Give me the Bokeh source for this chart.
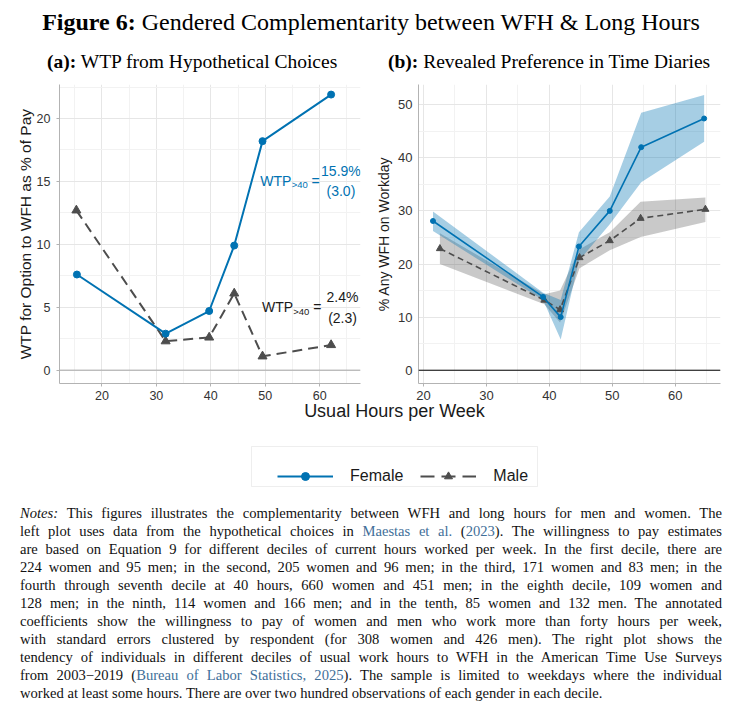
from bokeh.plotting import figure
from bokeh.models import (Range1d, FixedTicker, Span, Label, Legend, LegendItem,
                          BoxAnnotation, Div)
from bokeh.layouts import column, row
from bokeh.embed import file_html
from bokeh.resources import INLINE

# ---------------- data ----------------
# panel (a): WTP from hypothetical choices
a_hours_f = [15.4, 31.7, 39.7, 44.3, 49.5, 62.1]
a_wtp_f = [7.6, 2.9, 4.7, 9.9, 18.2, 21.9]
a_hours_m = [15.3, 31.7, 39.7, 44.3, 49.5, 62.1]
a_wtp_m = [12.7, 2.3, 2.6, 6.1, 1.1, 2.0]

# panel (b): revealed preference in time diaries
b_hours_f = [21.5, 39.0, 41.8, 44.7, 49.6, 54.6, 64.6]
b_pct_f = [28.1, 13.8, 10.0, 23.3, 30.0, 42.0, 47.4]
b_lo_f = [26.2, 13.2, 5.8, 20.6, 27.5, 35.4, 43.0]
b_hi_f = [29.9, 14.6, 13.2, 26.0, 32.7, 48.5, 51.8]
b_hours_m = [22.6, 39.2, 41.7, 44.8, 49.6, 54.5, 64.8]
b_pct_m = [22.9, 13.2, 11.4, 21.2, 24.4, 28.6, 30.3]
b_lo_m = [20.0, 12.4, 9.0, 19.2, 22.6, 25.1, 27.9]
b_hi_m = [25.8, 14.3, 15.0, 22.8, 26.0, 31.7, 32.5]

x_ticks = [20, 30, 40, 50, 60]
x_minor = [15, 25, 35, 45, 55, 65]
a_y_ticks = [0, 5, 10, 15, 20]
a_y_minor = [2.5, 7.5, 12.5, 17.5, 22.5]
b_y_ticks = [0, 10, 20, 30, 40, 50]
b_y_minor = [5, 15, 25, 35, 45, 55]

wtp_f_text = ["15.9%", "(3.0)"]
wtp_m_text = ["2.4%", "(2.3)"]

BLUE = "#0072B2"
GREY = "#4d4d4d"
SANS = "Liberation Sans"
SERIF = "Liberation Serif"


def style(p, yt, ym, tick_size, label_size):
    p.outline_line_color = None
    p.background_fill_color = "white"
    p.xaxis.ticker = FixedTicker(ticks=x_ticks, minor_ticks=x_minor)
    p.yaxis.ticker = FixedTicker(ticks=yt, minor_ticks=ym)
    for ax in (p.xaxis[0], p.yaxis[0]):
        ax.axis_line_color = "#b3b3b3"
        ax.major_tick_line_color = "#b3b3b3"
        ax.major_tick_out = 3
        ax.major_tick_in = 0
        ax.minor_tick_line_color = None
        ax.major_label_text_font = SANS
        ax.major_label_text_font_size = tick_size
        ax.major_label_text_color = "#333333"
        ax.major_label_standoff = 3
        ax.axis_label_text_font = SANS
        ax.axis_label_text_font_size = label_size
        ax.axis_label_text_font_style = "normal"
        ax.axis_label_text_color = "#1a1a1a"
        ax.axis_label_standoff = 0
    for g in (p.xgrid[0], p.ygrid[0]):
        g.grid_line_color = "#e6e6e6"
        g.grid_line_width = 1
        g.minor_grid_line_color = "#f2f2f2"
        g.minor_grid_line_width = 1


# ---------------- panel (a) ----------------
pa = figure(width=357, height=329, x_range=Range1d(12.2, 67.5), y_range=Range1d(-1.06, 22.7),
            output_backend="svg", toolbar_location=None,
            min_border_left=51, min_border_right=5, min_border_top=8, min_border_bottom=22)
style(pa, a_y_ticks, a_y_minor, "12.5px", "15.5px")
pa.yaxis.axis_label = "WTP for Option to WFH as % of Pay"
pa.yaxis.major_label_standoff = 5
pa.add_layout(Span(location=0, dimension="width", line_color="#a6a6a6", line_width=1))

pa.line(a_hours_m, a_wtp_m, line_color=GREY, line_width=2, line_dash="10 6")
pa.scatter(a_hours_m, a_wtp_m, marker="triangle", size=9, fill_color=GREY, line_color=GREY)
pa.line(a_hours_f, a_wtp_f, line_color=BLUE, line_width=2)
pa.scatter(a_hours_f, a_wtp_f, marker="circle", size=7, fill_color=BLUE, line_color=BLUE)


def wtp_note(p, x, y, color, val, se):
    p.add_layout(Label(x=x, y=y, text="WTP", text_color=color, text_font=SANS,
                       text_font_size="14px", text_baseline="middle", text_align="left"))
    p.add_layout(Label(x=x + 5.75, y=y - 0.33, text=">40", text_color=color, text_font=SANS,
                       text_font_size="9.5px", text_baseline="middle", text_align="left"))
    p.add_layout(Label(x=x + 9.4, y=y, text="=", text_color=color, text_font=SANS,
                       text_font_size="14px", text_baseline="middle", text_align="left"))
    p.add_layout(Label(x=x + 14.8, y=y + 0.8, text=val, text_color=color, text_font=SANS,
                       text_font_size="14px", text_baseline="middle", text_align="center"))
    p.add_layout(Label(x=x + 14.8, y=y - 0.85, text=se, text_color=color, text_font=SANS,
                       text_font_size="14px", text_baseline="middle", text_align="center"))


wtp_note(pa, 49.1, 15.05, BLUE, wtp_f_text[0], wtp_f_text[1])
wtp_note(pa, 49.4, 4.98, "#1a1a1a", wtp_m_text[0], wtp_m_text[1])

# ---------------- panel (b) ----------------
pb = figure(width=369, height=329, x_range=Range1d(19.2, 67.2), y_range=Range1d(-2.5, 53.8),
            output_backend="svg", toolbar_location=None,
            min_border_left=53, min_border_right=14, min_border_top=8, min_border_bottom=22)
style(pb, b_y_ticks, b_y_minor, "13px", "14px")
pb.yaxis.axis_label = "% Any WFH on Workday"
pb.yaxis.major_tick_out = 0
pb.yaxis.major_label_standoff = 2
pb.yaxis.axis_label_standoff = 3
pb.add_layout(Span(location=0, dimension="width", line_color="black", line_width=1))

pb.varea(x=b_hours_m, y1=b_lo_m, y2=b_hi_m, fill_color=GREY, fill_alpha=0.3)
pb.varea(x=b_hours_f, y1=b_lo_f, y2=b_hi_f, fill_color=BLUE, fill_alpha=0.35)
pb.line(b_hours_m, b_pct_m, line_color=GREY, line_width=1.6, line_dash="6 4")
pb.scatter(b_hours_m, b_pct_m, marker="triangle", size=7, fill_color=GREY, line_color=GREY)
pb.line(b_hours_f, b_pct_f, line_color=BLUE, line_width=1.6)
pb.scatter(b_hours_f, b_pct_f, marker="circle", size=5, fill_color=BLUE, line_color=BLUE)

# ---------------- legend strip ----------------
# the series are drawn here too but fall outside this strip's range; only their keys show
lg = figure(width=726, height=72, x_range=Range1d(0, 726), y_range=Range1d(100, 172),
            output_backend="svg", toolbar_location=None, min_border=0)
lg.axis.visible = False
lg.grid.visible = False
lg.outline_line_color = None
rf1 = lg.line(a_hours_f, a_wtp_f, line_color=BLUE, line_width=2)
rf2 = lg.scatter(a_hours_f, a_wtp_f, marker="circle", size=7, fill_color=BLUE, line_color=BLUE)
rm1 = lg.line(a_hours_m, a_wtp_m, line_color=GREY, line_width=2, line_dash="14 7")
rm2 = lg.scatter(a_hours_m, a_wtp_m, marker="triangle", size=9, fill_color=GREY, line_color=GREY)
legend = Legend(items=[LegendItem(label="Female", renderers=[rf1, rf2]),
                       LegendItem(label="Male", renderers=[rm1, rm2])],
                orientation="horizontal", location=(269, 17), padding=10, spacing=17,
                label_standoff=17, glyph_width=56, glyph_height=20, label_height=20,
                border_line_color=None, background_fill_alpha=0,
                label_text_font=SANS, label_text_font_size="16px", label_text_color="#1a1a1a")
lg.add_layout(legend)
lg.add_layout(BoxAnnotation(left=243, right=529, bottom=117, top=157, fill_alpha=0,
                            line_color="#c8c8c8", line_width=1))

# ---------------- text blocks ----------------
title = Div(width=726, height=40, margin=0, text=(
    f'<div style="font-family:\'{SERIF}\';font-size:24px;line-height:28px;text-align:center;'
    f'color:#000;width:726px;white-space:nowrap;"><b>Figure 6:</b> Gendered Complementarity '
    f'between WFH &amp; Long Hours</div>'))

subs = Div(width=726, height=28, margin=0, text=(
    f'<div style="position:relative;width:726px;height:28px;font-family:\'{SERIF}\';'
    f'font-size:19.5px;line-height:28px;color:#000;white-space:nowrap;">'
    f'<span style="position:absolute;left:39px;top:0;"><b>(a):</b> WTP from Hypothetical Choices</span>'
    f'<span style="position:absolute;left:380px;top:0;"><b>(b):</b> Revealed Preference in Time Diaries</span>'
    f'</div>'))

xlab = Div(width=726, height=26, margin=0, text=(
    f'<div style="box-sizing:border-box;width:726px;padding-left:47px;text-align:center;'
    f'font-family:\'{SANS}\';font-size:18px;line-height:18px;color:#1a1a1a;position:relative;top:-3px;">'
    f'Usual Hours per Week</div>'))

LINK = "#3f6f99"
note_lines = [
    '<i>Notes:</i> This figures illustrates the complementarity between WFH and long hours for men and women. The',
    f'left plot uses data from the hypothetical choices in <span style="color:{LINK}">Maestas et al.</span> (<span style="color:{LINK}">2023</span>). The willingness to pay estimates',
    'are based on Equation 9 for different deciles of current hours worked per week. In the first decile, there are',
    '224 women and 95 men; in the second, 205 women and 96 men; in the third, 171 women and 83 men; in the',
    'fourth through seventh decile at 40 hours, 660 women and 451 men; in the eighth decile, 109 women and',
    '128 men; in the ninth, 114 women and 166 men; and in the tenth, 85 women and 132 men. The annotated',
    'coefficients show the willingness to pay of women and men who work more than forty hours per week,',
    'with standard errors clustered by respondent (for 308 women and 426 men). The right plot shows the',
    'tendency of individuals in different deciles of usual work hours to WFH in the American Time Use Surveys',
    f'from 2003\u22122019 (<span style="color:{LINK}">Bureau of Labor Statistics, 2025</span>). The sample is limited to weekdays where the individual',
    'worked at least some hours. There are over two hundred observations of each gender in each decile.',
]
rows_html = []
for i, ln in enumerate(note_lines):
    last = i == len(note_lines) - 1
    align = "left" if last else "justify"
    rows_html.append(f'<div style="text-align:{align};text-align-last:{align};white-space:nowrap;'
                     f'height:18.06px;line-height:18.06px;">{ln}</div>')
notes = Div(width=726, height=200, margin=0, text=(
    f'<div style="box-sizing:border-box;width:726px;padding:1px 12px 0 12px;font-family:\'{SERIF}\';'
    f'font-size:14.6px;color:#111;">' + "".join(rows_html) + '</div>'))

layout = column(title, subs, row(pa, pb), xlab, lg, notes, spacing=0, margin=(8, 0, 0, 8))

open("out.html", "w").write(file_html(layout, INLINE))
